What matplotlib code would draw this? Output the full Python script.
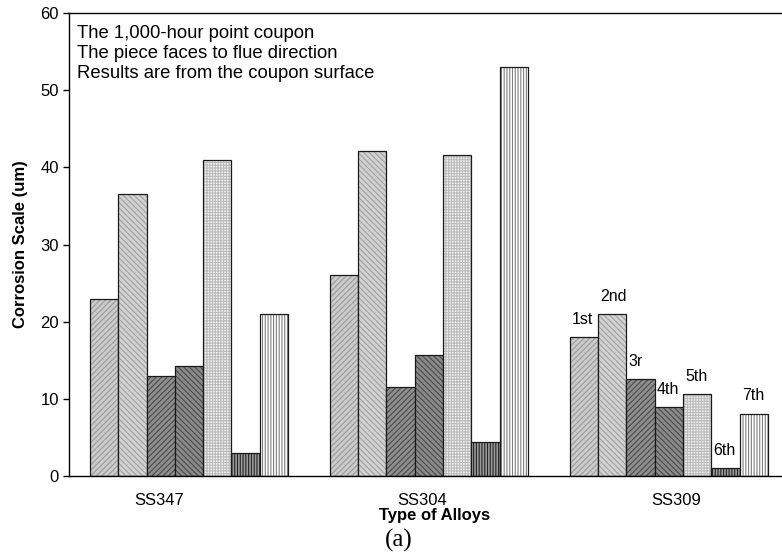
"""Corrosion scale of the 1,000-hour point coupons, grouped by alloy."""
import numpy as np
import matplotlib
matplotlib.use("Agg")
import matplotlib.pyplot as plt

alloys = ["SS347", "SS304", "SS309"]
positions = ["1st", "2nd", "3r", "4th", "5th", "6th", "7th"]

# corrosion scale (um) per coupon position, one list per alloy
ss347 = [23.0, 36.6, 12.9, 14.2, 41.0, 3.0, 21.0]
ss304 = [26.0, 42.1, 11.6, 15.7, 41.6, 4.4, 53.0]
ss309 = [18.0, 21.0, 12.6, 8.9, 10.6, 1.0, 8.1]

note = ["The 1,000-hour point coupon",
        "The piece faces to flue direction",
        "Results are from the coupon surface"]

# fill / hatch for each coupon position (grayscale pattern fills)
styles = [
    ("#cbcbcb", "//////", "#9a9a9a"),
    ("#d2d2d2", "\\\\\\\\\\\\", "#a0a0a0"),
    ("#8e8e8e", "//////", "#4a4a4a"),
    ("#8a8a8a", "\\\\\\\\\\\\", "#4a4a4a"),
    ("#f2f2f2", "++++++", "#bcbcbc"),
    ("#9a9a9a", "||||||", "#252525"),
    ("#ffffff", "||||||", "#808080"),
]

plt.rcParams["font.family"] = ["Liberation Sans", "DejaVu Sans"]
plt.rcParams["hatch.linewidth"] = 0.8

values = np.array([ss347, ss304, ss309])
n_groups, n_bars = values.shape
width = 0.118
centers = np.arange(n_groups)
label_shift = [-0.125, -0.03, 0.03]

fig = plt.figure(figsize=(7.82, 5.55), dpi=100)
ax = fig.add_axes([0.0876, 0.1423, 0.9124, 0.8343])

for j in range(n_bars):
    face, hatch, hcol = styles[j]
    x = centers + (j - (n_bars - 1) / 2) * width
    ax.bar(x, values[:, j], width, color=face, edgecolor=hcol,
           hatch=hatch, linewidth=0)
    ax.bar(x, values[:, j], width, fill=False, edgecolor="#1a1a1a",
           linewidth=0.9)

# position labels over the SS309 bars
g = 2
for j in range(n_bars):
    left = centers[g] + (j - (n_bars - 1) / 2) * width - width / 2
    ax.annotate(positions[j], (left, values[g, j]), xytext=(1.5, 9.5),
                textcoords="offset points", ha="left", va="baseline",
                fontsize=11.5)

ax.text(0.012, 0.975, "\n".join(note), transform=ax.transAxes,
        ha="left", va="top", fontsize=13.3, linespacing=1.25)

ax.set_xlim(-0.502, 2.471)
ax.set_ylim(0, 60)
ax.set_yticks(range(0, 61, 10))
ax.set_xticks(centers + np.array(label_shift))
ax.set_xticklabels(alloys)
ax.tick_params(axis="x", length=0, pad=12, labelsize=12)
ax.tick_params(axis="y", length=4, width=1, direction="out", labelsize=12,
               pad=3)
ax.spines["right"].set_visible(False)
for s in ("left", "bottom", "top"):
    ax.spines[s].set_linewidth(1.0)

fig.text(0.026, 0.5595, "Corrosion Scale (um)", rotation=90, ha="center",
         va="center", fontsize=12, fontweight="bold")
fig.text(0.556, 0.0703, "Type of Alloys", ha="center", va="center",
         fontsize=12, fontweight="bold")
fig.text(0.510, 0.027, "(a)", ha="center", va="center", fontsize=18,
         family=["Liberation Serif", "DejaVu Serif"])

fig.savefig("out.png", dpi=100)
